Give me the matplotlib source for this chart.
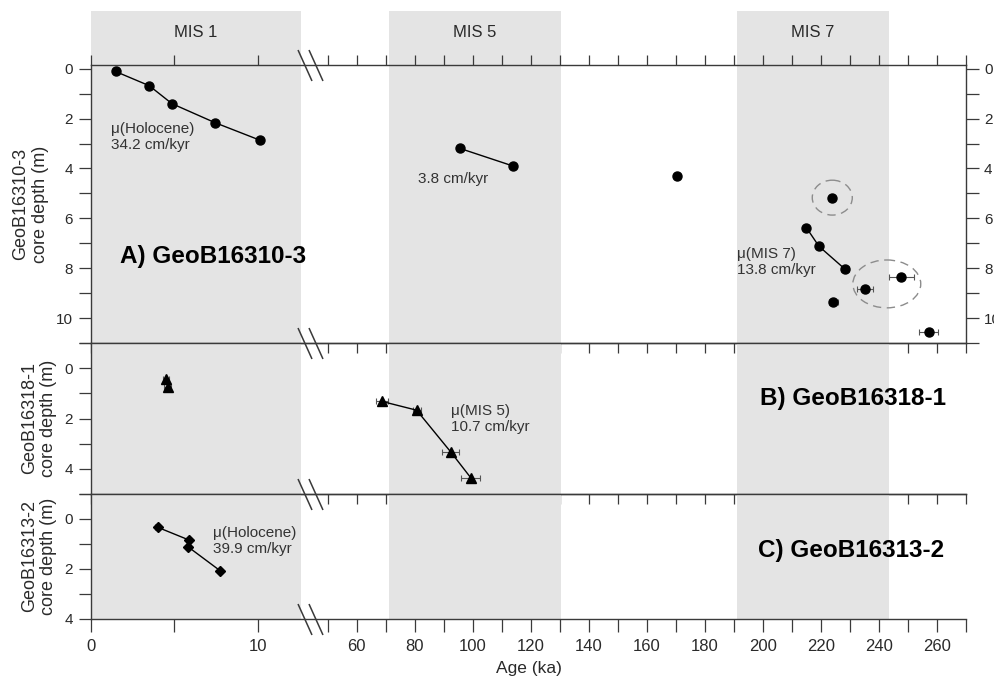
import numpy as np
import matplotlib
matplotlib.use("Agg")
import matplotlib.pyplot as plt
from matplotlib.path import Path
from matplotlib.patches import Ellipse
from matplotlib.ticker import FixedLocator, FixedFormatter

plt.rcParams['font.family'] = ['Liberation Sans', 'DejaVu Sans']

# --- data (age in ka, depth in m) ---
# GeoB16310-3
aHolAge = [1.47, 3.49, 4.85, 7.42, 10.14]
aHolDepth = [0.11, 0.68, 1.40, 2.16, 2.87]
aMis5Age = [95.4, 113.8]
aMis5Depth = [3.19, 3.90]
aMis7Age = [215.0, 219.3, 228.3]
aMis7Depth = [6.38, 7.12, 8.04]
aMis7Err = [0.0, 0.0, 1.5]
aLooseAge = [170.5, 223.9, 247.7, 235.1, 224.2, 257.1]
aLooseDepth = [4.32, 5.18, 8.34, 8.84, 9.36, 10.55]
aLooseErr = [0.0, 0.0, 4.4, 2.8, 1.5, 3.4]
# outlier rings: (age, depth, width ka, height m)
outlierRings = [(223.9, 5.17, 13.8, 1.4), (242.7, 8.63, 23.4, 1.92)]

# GeoB16318-1
bHolAge = [4.49, 4.59]
bHolDepth = [0.44, 0.73]
bHolErr = [0.2, 0.2]
bMis5Age = [68.6, 80.6, 92.3, 99.3]
bMis5Depth = [1.32, 1.67, 3.32, 4.36]
bMis5Err = [2.1, 1.4, 3.0, 3.3]

# GeoB16313-2
cHolAge = [3.99, 5.87, 5.81, 7.74]
cHolDepth = [0.33, 0.84, 1.11, 2.07]
cHolErr = [0.15, 0.1, 0.1, 0.1]

misNames = ['MIS 1', 'MIS 5', 'MIS 7']
misBands = [(0, 12.6), (71, 130.5), (191, 243.5)]

xMajor = [0, 10] + list(range(60, 261, 20))
xMinor = [5] + list(range(50, 271, 20))

# broken age axis: ka -> screen position (left part stretched, gap squeezed)
brkKa = [0, 12.6, 44, 270]
brkPos = [0, 210.4, 219.6, 875.6]


def pieceWise(x, xs, ys):
    x = np.asarray(x, dtype=float)
    y = np.interp(x, xs, ys)
    sLo = (ys[1] - ys[0]) / (xs[1] - xs[0])
    sHi = (ys[-1] - ys[-2]) / (xs[-1] - xs[-2])
    y = np.where(x < xs[0], ys[0] + (x - xs[0]) * sLo, y)
    y = np.where(x > xs[-1], ys[-1] + (x - xs[-1]) * sHi, y)
    return y


def fwd(x):
    return pieceWise(x, brkKa, brkPos)


def inv(y):
    return pieceWise(y, brkPos, brkKa)


grey = '#e4e4e4'
axCol = '#3a3a3a'
txtCol = '#2a2a2a'

fig = plt.figure(figsize=(9.95, 6.77), dpi=100)
L, W = 91 / 995, 875 / 995
axA = fig.add_axes([L, 1 - 343 / 677, W, 278 / 677])
axB = fig.add_axes([L, 1 - 494 / 677, W, 151 / 677], sharex=axA)
axC = fig.add_axes([L, 1 - 619 / 677, W, 125 / 677], sharex=axA)
axTop = fig.add_axes([L, 1 - 65 / 677, W, 54 / 677], sharex=axA)
axTop.set_zorder(-1)

axA.set_xscale('function', functions=(fwd, inv))
axA.set_xlim(0, 270)

# glacial/interglacial bands
for lo, hi in misBands:
    for ax in (axA, axB, axC, axTop):
        ax.axvspan(lo, hi, color=grey, lw=0, zorder=0)
for name, (lo, hi) in zip(misNames, misBands):
    mid = float(inv((fwd(lo) + fwd(hi)) / 2))
    axTop.text(mid, 0.61, name, ha='center', va='center', fontsize=12, color=txtCol)
axTop.set_ylim(0, 1)
axTop.axis('off')

ebKw = dict(fmt='none', ecolor='#555555', elinewidth=0.8, capsize=2, capthick=0.8, zorder=2)
lnKw = dict(color='black', lw=1.0, zorder=3)

# panel A
axA.plot(aHolAge, aHolDepth, marker='o', ms=6.5, **lnKw)
axA.plot(aMis5Age, aMis5Depth, marker='o', ms=6.5, **lnKw)
axA.errorbar(aMis7Age, aMis7Depth, xerr=aMis7Err, **ebKw)
axA.plot(aMis7Age, aMis7Depth, marker='o', ms=6.5, **lnKw)
axA.errorbar(aLooseAge, aLooseDepth, xerr=aLooseErr, **ebKw)
axA.plot(aLooseAge, aLooseDepth, 'o', ms=6.5, color='black', zorder=3)
for cx, cy, w, h in outlierRings:
    axA.add_patch(Ellipse((cx, cy), w, h, fill=False, ec='#8c8c8c', lw=1.0,
                          ls=(0, (6, 4)), zorder=3))
axA.set_ylim(11, -0.15)

# panel B
axB.errorbar(bHolAge, bHolDepth, xerr=bHolErr, **ebKw)
axB.plot(bHolAge, bHolDepth, '^', ms=7, color='black', zorder=3)
axB.errorbar(bMis5Age, bMis5Depth, xerr=bMis5Err, **ebKw)
axB.plot(bMis5Age, bMis5Depth, marker='^', ms=7, **lnKw)
axB.set_ylim(5, -1)

# panel C
axC.errorbar(cHolAge, cHolDepth, xerr=cHolErr, **ebKw)
axC.plot(cHolAge, cHolDepth, marker='D', ms=5.5, **lnKw)
axC.set_ylim(4, -1)

# annotations
annKw = dict(ha='left', va='center', fontsize=11, color='#333333')
axA.text(1.2, 2.75, 'μ(Holocene)\n34.2 cm/kyr', **annKw)
axA.text(81.0, 4.43, '3.8 cm/kyr', **annKw)
axA.text(190.9, 7.76, 'μ(MIS 7)\n13.8 cm/kyr', **annKw)
axB.text(92.3, 2.02, 'μ(MIS 5)\n10.7 cm/kyr', **annKw)
axC.text(7.34, 0.89, 'μ(Holocene)\n39.9 cm/kyr', **annKw)
lblKw = dict(ha='left', va='center', fontsize=17.5, fontweight='bold', color='black')
axA.text(1.71, 7.54, 'A) GeoB16310-3', **lblKw)
axB.text(199.1, 1.21, 'B) GeoB16318-1', **lblKw)
axC.text(198.2, 1.28, 'C) GeoB16313-2', **lblKw)

# axes cosmetics
yTicks = {axA: (range(0, 11, 2), range(1, 12, 2)),
          axB: ([0, 2, 4], [-1, 1, 3, 5]),
          axC: ([0, 2, 4], [-1, 1, 3])}
for ax, (maj, mnr) in yTicks.items():
    ax.xaxis.set_major_locator(FixedLocator(xMajor))
    ax.xaxis.set_major_formatter(FixedFormatter([str(v) for v in xMajor]))
    ax.xaxis.set_minor_locator(FixedLocator(xMinor))
    ax.yaxis.set_major_locator(FixedLocator(list(maj)))
    ax.yaxis.set_minor_locator(FixedLocator(list(mnr)))
    for sp in ax.spines.values():
        sp.set_color(axCol)
        sp.set_linewidth(1.0)
    ax.set_facecolor('none')
    ax.tick_params(axis='both', which='both', direction='out', color=axCol,
                   width=0.9, labelcolor=txtCol)
    ax.tick_params(axis='y', which='both', length=9, labelsize=11, pad=4)
    ax.tick_params(axis='x', which='both', length=7.5, labelsize=12, pad=5,
                   top=False, labelbottom=False)

axA.tick_params(axis='x', which='both', top=True)
axA.tick_params(axis='y', which='both', right=True, labelright=True)
for ax in (axB, axC):
    ax.spines['right'].set_visible(False)
axC.tick_params(axis='x', which='both', labelbottom=True, length=9.5)

axA.set_ylabel('GeoB16310-3\ncore depth (m)', fontsize=13, color=txtCol, labelpad=5)
axB.set_ylabel('GeoB16318-1\ncore depth (m)', fontsize=13, color=txtCol, labelpad=5)
axC.set_ylabel('GeoB16313-2\ncore depth (m)', fontsize=13, color=txtCol, labelpad=5)
axC.set_xlabel('Age (ka)', fontsize=12.5, color=txtCol, labelpad=5)

# axis break marks "//"
brkPath = Path([(-12.5, 15.5), (1.5, -15.5), (-1.5, 15.5), (12.5, -15.5)],
               [Path.MOVETO, Path.LINETO, Path.MOVETO, Path.LINETO])
for ax, ys in ((axA, [0, 1]), (axB, [0]), (axC, [0])):
    for yb in ys:
        ax.plot([44], [yb], marker=brkPath, ms=22.3, mfc='none', mec=axCol, mew=1.1,
                transform=ax.get_xaxis_transform(), clip_on=False, zorder=6)

fig.savefig('out.png', dpi=100)
